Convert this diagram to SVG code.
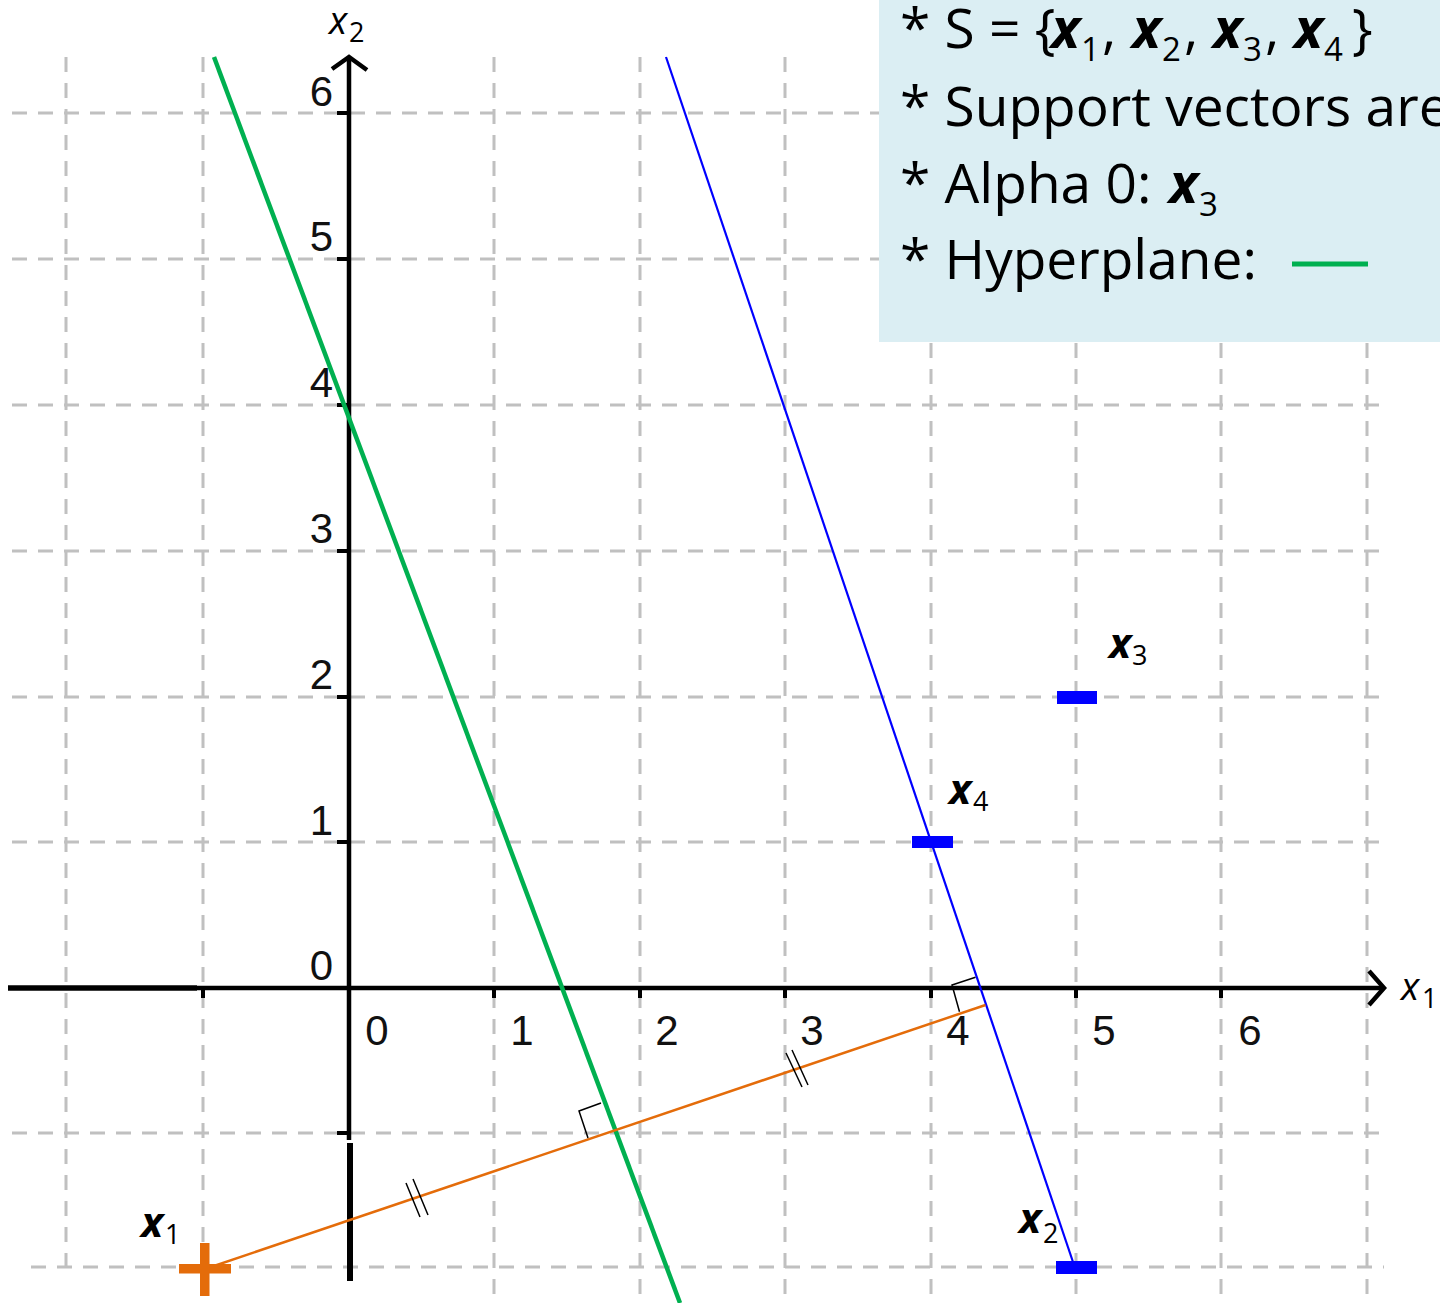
<svg xmlns="http://www.w3.org/2000/svg" width="1440" height="1303" viewBox="0 0 1440 1303">
<style>
.grid{stroke:#c0c0c0;stroke-width:3;stroke-dasharray:15 11;fill:none}
.ax{stroke:#000;fill:none;stroke-linecap:butt}
.num{font-family:"Liberation Sans",Arial,sans-serif;font-size:42px;fill:#111}
.box{font-family:"Open Sans",sans-serif;font-size:55px;fill:#000}
.bx{font-weight:bold;font-style:italic}
.sb{font-size:33px}
.lbl{font-family:"Open Sans",sans-serif;fill:#000}
.ls{font-size:27px;font-style:normal;font-weight:normal}
.mark{stroke:#000;stroke-width:1.5;fill:none}
</style>
<rect width="1440" height="1303" fill="#fff"/>
<g id="grid" class="grid">
<path d="M12 113H1384M12 259H1384M12 405H1384M12 551H1384M12 697H1384M12 842H1384M12 1133H1384M31 1267H1384"/>
<path d="M66 57V1275M203 57V1300M494 57V1300M640 57V1300M785 57V1300M931 57V1300M1076 57V1300M1221 57V1300M1367 57V1300"/>
</g>
<g id="axes">
<line class="ax" x1="8" y1="988" x2="197" y2="988" stroke-width="5.5"/>
<line class="ax" x1="197" y1="988" x2="1383" y2="988" stroke-width="4.5"/>
<polyline class="ax" points="1369,971 1384,988 1369,1005" stroke-width="4.5"/>
<path class="ax" stroke-width="4" d="M203 988V998M494 988V998M640 988V998M785 988V998M931 988V998M1076 988V998M1221 988V998"/>
<line class="ax" x1="349" y1="58" x2="349" y2="1140" stroke-width="4.5"/>
<polyline class="ax" points="332,69 349,57 367,70" stroke-width="4.5"/>
<path class="ax" stroke-width="4" d="M337 113H349M337 259H349M337 405H349M337 551H349M337 697H349M337 842H349M337 1133H349"/>
<line class="ax" x1="350" y1="1143" x2="350" y2="1281" stroke-width="6"/>
<text class="num" x="333" y="106" text-anchor="end">6</text>
<text class="num" x="333" y="251" text-anchor="end">5</text>
<text class="num" x="333" y="397" text-anchor="end">4</text>
<text class="num" x="333" y="543" text-anchor="end">3</text>
<text class="num" x="333" y="689" text-anchor="end">2</text>
<text class="num" x="333" y="835" text-anchor="end">1</text>
<text class="num" x="333" y="980" text-anchor="end">0</text>
<text class="num" x="377" y="1045" text-anchor="middle">0</text>
<text class="num" x="522" y="1045" text-anchor="middle">1</text>
<text class="num" x="667" y="1045" text-anchor="middle">2</text>
<text class="num" x="812" y="1045" text-anchor="middle">3</text>
<text class="num" x="958" y="1045" text-anchor="middle">4</text>
<text class="num" x="1104" y="1045" text-anchor="middle">5</text>
<text class="num" x="1250" y="1045" text-anchor="middle">6</text>
<text class="lbl" x="329" y="34" font-size="38" font-style="italic">x<tspan class="ls" x="349" y="42">2</tspan></text>
<text class="lbl" x="1401" y="1000" font-size="38" font-style="italic">x<tspan class="ls" x="1422" y="1008">1</tspan></text>
</g>
<g id="connectors">
<line x1="214" y1="57" x2="680" y2="1303" stroke="#00B050" stroke-width="4.5"/>
<line x1="666" y1="57" x2="1073" y2="1262" stroke="#0000FF" stroke-width="2.2"/>
<line x1="205" y1="1269" x2="985.5" y2="1005" stroke="#E46C0A" stroke-width="2.5"/>
<polyline class="mark" points="601,1103 579,1111 588,1138"/>
<polyline class="mark" points="975.5,977.3 952,985 959.5,1011.7"/>
<path class="mark" stroke-width="1.3" d="M406 1183L420 1217M413 1179L428 1215M786 1053L802 1087M792 1050L808 1085"/>
</g>
<g id="x1">
<rect x="179" y="1264" width="52" height="9.5" fill="#E46C0A"/>
<rect x="200" y="1243" width="9.5" height="53" fill="#E46C0A"/>
<text class="lbl" x="141" y="1237" font-size="42"><tspan class="bx">x</tspan><tspan class="ls" x="165" y="1244">1</tspan></text>
</g>
<g id="x2">
<rect x="1056" y="1261" width="41" height="13" fill="#0000FF"/>
<text class="lbl" x="1019" y="1233" font-size="42"><tspan class="bx">x</tspan><tspan class="ls" x="1043" y="1243">2</tspan></text>
</g>
<g id="x3">
<rect x="1057" y="691" width="40" height="13" fill="#0000FF"/>
<text class="lbl" x="1109" y="658" font-size="42"><tspan class="bx">x</tspan><tspan class="ls" x="1132" y="665">3</tspan></text>
</g>
<g id="x4">
<rect x="912" y="836" width="41" height="12" fill="#0000FF"/>
<text class="lbl" x="949" y="804" font-size="42"><tspan class="bx">x</tspan><tspan class="ls" x="973" y="811">4</tspan></text>
</g>
<g id="legend">
<rect x="879" y="0" width="561" height="342" fill="#DBEEF3"/>
<text class="box" x="900" y="48">* S = {<tspan class="bx" x="1051">x</tspan><tspan class="sb" x="1081" y="61">1</tspan><tspan x="1102" y="48">,</tspan><tspan class="bx" x="1132">x</tspan><tspan class="sb" x="1162" y="61">2</tspan><tspan x="1184" y="48">,</tspan><tspan class="bx" x="1213">x</tspan><tspan class="sb" x="1243" y="61">3</tspan><tspan x="1265" y="48">,</tspan><tspan class="bx" x="1294">x</tspan><tspan class="sb" x="1324" y="61">4</tspan><tspan x="1352" y="48">}</tspan></text>
<text class="box" x="900" y="126">* Support vectors are</text>
<text class="box" x="900" y="203">* Alpha 0: <tspan class="bx" x="1169">x</tspan><tspan class="sb" x="1199" y="216">3</tspan></text>
<text class="box" x="900" y="279">* Hyperplane:</text>
<line x1="1292" y1="264" x2="1368" y2="264" stroke="#00B050" stroke-width="5"/>
</g>
</svg>
